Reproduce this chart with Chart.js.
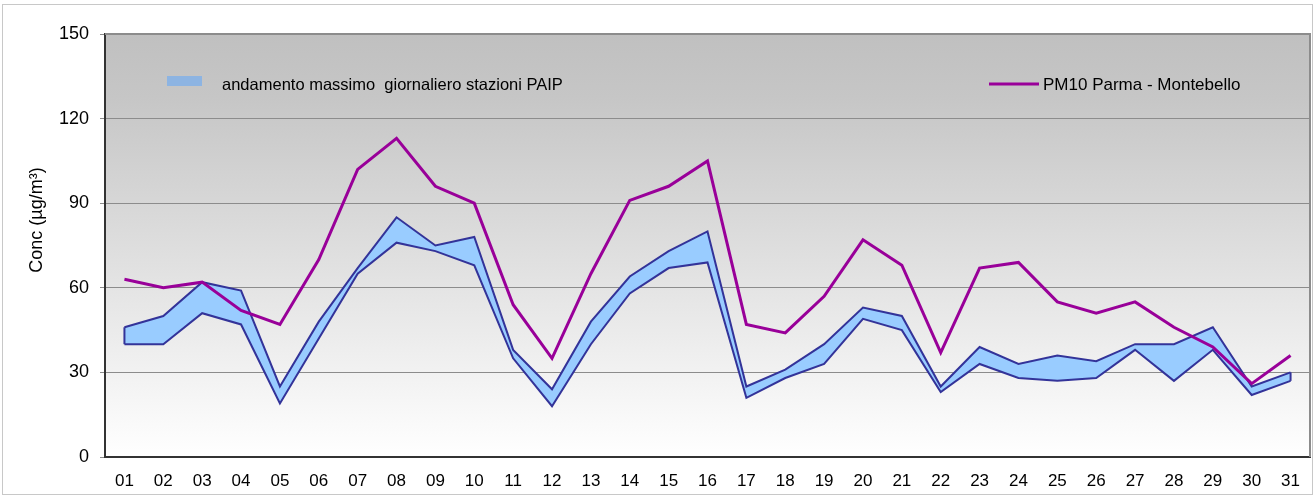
<!DOCTYPE html>
<html>
<head>
<meta charset="utf-8">
<script src="https://cdn.jsdelivr.net/npm/chart.js@4/dist/chart.umd.min.js"></script>
<style>
  html, body { margin: 0; padding: 0; background: #fff; }
  canvas { display: block; }
</style>
</head>
<body>
<canvas id="chart" width="1315" height="497"></canvas>
<script>
'use strict';

// giorni del mese
const days = ['01', '02', '03', '04', '05', '06', '07', '08', '09', '10',
    '11', '12', '13', '14', '15', '16', '17', '18', '19', '20',
    '21', '22', '23', '24', '25', '26', '27', '28', '29', '30', '31'];

// banda stazioni PAIP (limite superiore / inferiore)
const bandMax = [46, 50, 62, 59, 25, 48, 67, 85, 75, 78, 38, 24, 48, 64, 73, 80,
    25, 31, 40, 53, 50, 25, 39, 33, 36, 34, 40, 40, 46, 25, 30];
const bandMin = [40, 40, 51, 47, 19, 42, 65, 76, 73, 68, 35, 18, 40, 58, 67, 69,
    21, 28, 33, 49, 45, 23, 33, 28, 27, 28, 38, 27, 38, 22, 27];

// PM10 Parma - Montebello
const montebello = [63, 60, 62, 52, 47, 70, 102, 113, 96, 90, 54, 35, 65, 91, 96, 105,
    47, 44, 57, 77, 68, 37, 67, 69, 55, 51, 55, 46, 39, 26, 36];

const yTicks = [0, 30, 60, 90, 120, 150];

const BAND_LABEL = 'andamento massimo  giornaliero stazioni PAIP';
const LINE_LABEL = 'PM10 Parma - Montebello';
const Y_TITLE = 'Conc (\u00b5g/m\u00b3)';
const FONT = "'Liberation Sans', Arial, sans-serif";

const BAND_EDGE = '#333399';
const BAND_FILL = '#99ccff';
const LINE_COLOR = '#990099';

// sfondo sfumato + cornice esterna
const backgroundPlugin = {
    id: 'background',
    beforeDraw(chart) {
        const { ctx, chartArea: a } = chart;
        ctx.save();
        ctx.strokeStyle = '#c8c8c8';
        ctx.lineWidth = 1;
        ctx.strokeRect(2.5, 4.5, 1310, 490);
        const grad = ctx.createLinearGradient(0, a.top, 0, a.bottom);
        grad.addColorStop(0, '#c0c0c0');
        grad.addColorStop(0.15, '#c6c6c6');
        grad.addColorStop(1, '#ffffff');
        ctx.fillStyle = grad;
        ctx.fillRect(a.left, a.top, a.right - a.left, a.bottom - a.top);
        ctx.restore();
    },
    beforeDatasetsDraw(chart) {
        const { ctx, chartArea: a } = chart;
        ctx.save();
        ctx.strokeStyle = '#8c8c8c';
        ctx.lineWidth = 2;
        ctx.beginPath();
        ctx.moveTo(a.left, a.top);
        ctx.lineTo(a.right, a.top);
        ctx.lineTo(a.right, a.bottom);
        ctx.stroke();
        ctx.restore();
    }
};

// chiusura verticale della banda agli estremi
const bandEndsPlugin = {
    id: 'bandEnds',
    afterDatasetsDraw(chart) {
        const up = chart.getDatasetMeta(0).data;
        const lo = chart.getDatasetMeta(1).data;
        const ctx = chart.ctx;
        ctx.save();
        ctx.strokeStyle = BAND_EDGE;
        ctx.lineWidth = 2;
        [0, up.length - 1].forEach((i) => {
            ctx.beginPath();
            ctx.moveTo(up[i].x, up[i].y);
            ctx.lineTo(lo[i].x, lo[i].y);
            ctx.stroke();
        });
        ctx.restore();
    }
};

// legenda dentro l'area del grafico + titolo asse y
const legendPlugin = {
    id: 'innerLegend',
    afterDraw(chart) {
        const ctx = chart.ctx;
        ctx.save();
        ctx.font = '16.5px ' + FONT;
        ctx.textBaseline = 'middle';

        ctx.fillStyle = '#8db4e2';
        ctx.fillRect(167, 76, 35, 10);
        ctx.fillStyle = '#000';
        ctx.fillText(chart.data.datasets[0].label, 222, 85);

        ctx.font = '17px ' + FONT;
        ctx.strokeStyle = LINE_COLOR;
        ctx.lineWidth = 3;
        ctx.beginPath();
        ctx.moveTo(989, 84);
        ctx.lineTo(1039, 84);
        ctx.stroke();
        ctx.fillText(chart.data.datasets[2].label, 1043, 85);

        ctx.translate(37, 220);
        ctx.rotate(-Math.PI / 2);
        ctx.textAlign = 'center';
        ctx.font = '18px ' + FONT;
        ctx.fillText(Y_TITLE, 0, 0);
        ctx.restore();
    }
};

new Chart(document.getElementById('chart'), {
    type: 'line',
    data: {
        labels: days,
        datasets: [
            {
                label: BAND_LABEL,
                data: bandMax,
                borderColor: BAND_EDGE,
                backgroundColor: BAND_FILL,
                borderWidth: 2,
                fill: '+1',
                order: 1
            },
            {
                label: 'min',
                data: bandMin,
                borderColor: BAND_EDGE,
                borderWidth: 2,
                fill: false,
                order: 2
            },
            {
                label: LINE_LABEL,
                data: montebello,
                borderColor: LINE_COLOR,
                borderWidth: 3,
                fill: false,
                order: 0
            }
        ]
    },
    options: {
        responsive: false,
        animation: false,
        layout: { padding: { top: 34, right: 5, left: 0, bottom: 0 } },
        elements: {
            point: { radius: 0 },
            line: { tension: 0, borderJoinStyle: 'miter' }
        },
        plugins: {
            legend: { display: false },
            tooltip: { enabled: false },
            filler: { drawTime: 'beforeDatasetsDraw' }
        },
        scales: {
            x: {
                offset: true,
                grid: { display: false },
                border: { display: true, color: '#333', width: 2 },
                ticks: {
                    color: '#000',
                    font: { family: FONT, size: 17 },
                    padding: 6,
                    maxRotation: 0,
                    autoSkip: false
                },
                afterFit(scale) { scale.height = 40; }
            },
            y: {
                min: 0,
                max: 150,
                afterBuildTicks(scale) {
                    scale.ticks = yTicks.map((v) => ({ value: v }));
                },
                grid: { color: '#8c8c8c', lineWidth: 1, tickLength: 5, tickColor: '#8c8c8c' },
                border: { display: true, color: '#333', width: 2 },
                ticks: {
                    color: '#000',
                    font: { family: FONT, size: 18 },
                    padding: 11
                },
                afterFit(scale) { scale.width = 105; }
            }
        }
    },
    plugins: [backgroundPlugin, bandEndsPlugin, legendPlugin]
});
</script>
</body>
</html>
